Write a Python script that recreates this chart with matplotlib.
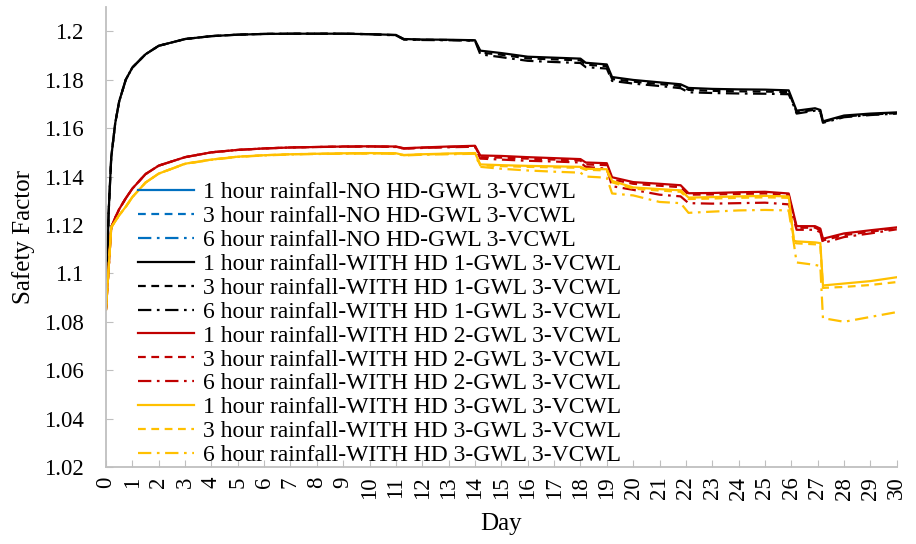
import matplotlib
matplotlib.use("Agg")
import matplotlib.pyplot as plt

plt.rcParams['font.family'] = ['Liberation Serif', 'DejaVu Serif']

# Data
day = [0, 0.1, 0.2, 0.35, 0.5, 0.75, 1, 1.5, 2, 3, 4, 5, 6, 7, 8, 9, 10, 11, 11.3, 12, 13, 14,
       14.2, 15, 16, 17, 18, 18.2, 19, 19.2, 20, 21, 21.8, 22.1, 23, 24, 25, 25.9,
       26.1, 26.2, 26.9, 27.1, 27.2, 28, 29, 30]

# NO HD series lie below the plotted range (not visible in the chart)
no_hd_day = [0, 30]
no_hd_1h = [1.000, 0.995]
no_hd_3h = [1.000, 0.994]
no_hd_6h = [1.000, 0.993]

hd1_1h = [1.086, 1.125, 1.148, 1.162, 1.171, 1.180, 1.185, 1.1905, 1.1940, 1.1968, 1.1980, 1.1986, 1.1989, 1.1990, 1.1990, 1.1990, 1.1988, 1.1985, 1.1968, 1.1966, 1.1965, 1.1963,
          1.1920, 1.1910, 1.1895, 1.1891, 1.1887, 1.1870, 1.1863, 1.1811, 1.1799, 1.1789, 1.1781, 1.1766, 1.1762, 1.1760, 1.1759, 1.1756,
          1.1700, 1.1672, 1.1682, 1.1675, 1.1628, 1.1652, 1.1660, 1.1665]
hd1_3h = [1.086, 1.125, 1.148, 1.162, 1.171, 1.180, 1.185, 1.1905, 1.1940, 1.1968, 1.1980, 1.1986, 1.1989, 1.1990, 1.1990, 1.1990, 1.1988, 1.1984, 1.1967, 1.1965, 1.1964, 1.1962,
          1.1912, 1.1903, 1.1888, 1.1884, 1.1880, 1.1862, 1.1856, 1.1803, 1.1792, 1.1782, 1.1774, 1.1758, 1.1754, 1.1752, 1.1751, 1.1749,
          1.1695, 1.1665, 1.1676, 1.1670, 1.1625, 1.1648, 1.1656, 1.1662]
hd1_6h = [1.086, 1.125, 1.148, 1.162, 1.171, 1.180, 1.185, 1.1905, 1.1940, 1.1968, 1.1980, 1.1986, 1.1989, 1.1990, 1.1990, 1.1990, 1.1988, 1.1983, 1.1966, 1.1964, 1.1963, 1.1961,
          1.1905, 1.1893, 1.1878, 1.1873, 1.1869, 1.1852, 1.1846, 1.1795, 1.1784, 1.1774, 1.1765, 1.1748, 1.1745, 1.1743, 1.1742, 1.1740,
          1.1690, 1.1660, 1.1672, 1.1666, 1.1622, 1.1645, 1.1654, 1.1660]

hd2_1h = [1.085, 1.102, 1.119, 1.123, 1.1265, 1.131, 1.1350, 1.1410, 1.1445, 1.1480, 1.1500, 1.1510, 1.1516, 1.1520, 1.1522, 1.1524, 1.1525, 1.1524, 1.1517, 1.1520, 1.1524, 1.1527,
          1.1487, 1.1485, 1.1480, 1.1476, 1.1472, 1.1458, 1.1455, 1.1397, 1.1377, 1.1370, 1.1364, 1.1331, 1.1332, 1.1335, 1.1337, 1.1330,
          1.1240, 1.1195, 1.1195, 1.1185, 1.1143, 1.1165, 1.1178, 1.1190]
hd2_3h = [1.085, 1.102, 1.119, 1.123, 1.1265, 1.131, 1.1350, 1.1410, 1.1445, 1.1480, 1.1500, 1.1510, 1.1516, 1.1520, 1.1522, 1.1524, 1.1524, 1.1523, 1.1516, 1.1519, 1.1522, 1.1525,
          1.1480, 1.1478, 1.1474, 1.1470, 1.1466, 1.1450, 1.1447, 1.1388, 1.1370, 1.1362, 1.1356, 1.1325, 1.1326, 1.1328, 1.1330, 1.1323,
          1.1232, 1.1188, 1.1189, 1.1178, 1.1136, 1.1158, 1.1172, 1.1186]
hd2_6h = [1.085, 1.102, 1.119, 1.123, 1.1265, 1.131, 1.1350, 1.1410, 1.1445, 1.1480, 1.1500, 1.1510, 1.1516, 1.1520, 1.1522, 1.1523, 1.1524, 1.1522, 1.1515, 1.1518, 1.1521, 1.1523,
          1.1474, 1.1470, 1.1465, 1.1462, 1.1458, 1.1440, 1.1432, 1.1360, 1.1345, 1.1325, 1.1318, 1.1290, 1.1288, 1.1290, 1.1292, 1.1285,
          1.1220, 1.1180, 1.1180, 1.1170, 1.1125, 1.1150, 1.1165, 1.1182]

hd3_1h = [1.085, 1.102, 1.119, 1.1215, 1.124, 1.1275, 1.1315, 1.1375, 1.1412, 1.1453, 1.1470, 1.1482, 1.1488, 1.1492, 1.1494, 1.1496, 1.1497, 1.1496, 1.1489, 1.1492, 1.1495, 1.1497,
          1.1450, 1.1447, 1.1444, 1.1442, 1.1440, 1.1432, 1.1430, 1.1382, 1.1355, 1.1348, 1.1343, 1.1313, 1.1315, 1.1318, 1.1320, 1.1318,
          1.1135, 1.1132, 1.1128, 1.1125, 1.0950, 1.0958, 1.0968, 1.0984]
hd3_3h = [1.085, 1.102, 1.119, 1.1215, 1.124, 1.1275, 1.1315, 1.1375, 1.1412, 1.1453, 1.1470, 1.1482, 1.1488, 1.1492, 1.1494, 1.1495, 1.1496, 1.1495, 1.1488, 1.1491, 1.1494, 1.1496,
          1.1446, 1.1443, 1.1440, 1.1438, 1.1436, 1.1428, 1.1425, 1.1376, 1.1350, 1.1342, 1.1337, 1.1307, 1.1309, 1.1312, 1.1314, 1.1312,
          1.1128, 1.1124, 1.1120, 1.1117, 1.0940, 1.0944, 1.0952, 1.0964]
hd3_6h = [1.085, 1.102, 1.119, 1.1215, 1.124, 1.1275, 1.1315, 1.1375, 1.1412, 1.1452, 1.1469, 1.1481, 1.1487, 1.1491, 1.1493, 1.1494, 1.1495, 1.1494, 1.1487, 1.1490, 1.1492, 1.1494,
          1.1440, 1.1432, 1.1425, 1.1420, 1.1416, 1.1400, 1.1395, 1.1330, 1.1322, 1.1295, 1.1290, 1.1250, 1.1255, 1.1260, 1.1262, 1.1260,
          1.1120, 1.1045, 1.1035, 1.1030, 1.0815, 1.0800, 1.0820, 1.0840]

blue = '#0070C0'
black = '#000000'
red = '#C00000'
orange = '#FFC000'

dash = (0, (3.5, 2.5))
dashdot = (0, (6, 2.5, 1.2, 2.5))

fig = plt.figure(figsize=(9.16, 5.44), dpi=100)
ax = fig.add_axes([0.1157, 0.1415, 0.8633, 0.8455])

series = [
    (no_hd_day, no_hd_1h, blue, '-', '1 hour rainfall-NO HD-GWL 3-VCWL'),
    (no_hd_day, no_hd_3h, blue, dash, '3 hour rainfall-NO HD-GWL 3-VCWL'),
    (no_hd_day, no_hd_6h, blue, dashdot, '6 hour rainfall-NO HD-GWL 3-VCWL'),
    (day, hd1_1h, black, '-', '1 hour rainfall-WITH HD 1-GWL 3-VCWL'),
    (day, hd1_3h, black, dash, '3 hour rainfall-WITH HD 1-GWL 3-VCWL'),
    (day, hd1_6h, black, dashdot, '6 hour rainfall-WITH HD 1-GWL 3-VCWL'),
    (day, hd2_1h, red, '-', '1 hour rainfall-WITH HD 2-GWL 3-VCWL'),
    (day, hd2_3h, red, dash, '3 hour rainfall-WITH HD 2-GWL 3-VCWL'),
    (day, hd2_6h, red, dashdot, '6 hour rainfall-WITH HD 2-GWL 3-VCWL'),
    (day, hd3_1h, orange, '-', '1 hour rainfall-WITH HD 3-GWL 3-VCWL'),
    (day, hd3_3h, orange, dash, '3 hour rainfall-WITH HD 3-GWL 3-VCWL'),
    (day, hd3_6h, orange, dashdot, '6 hour rainfall-WITH HD 3-GWL 3-VCWL'),
]
for x, y, c, ls, lab in series:
    ax.plot(x, y, color=c, linestyle=ls, linewidth=1.6, label=lab)

ax.set_xlim(0, 30)
ax.set_ylim(1.02, 1.21)
ax.set_xticks(range(0, 31))
ax.set_yticks([1.02 + 0.02 * i for i in range(10)])
ax.set_yticklabels(['1.02', '1.04', '1.06', '1.08', '1.1', '1.12', '1.14', '1.16', '1.18', '1.2'])
ax.tick_params(axis='x', direction='in', length=5, color='#BFBFBF', labelsize=16.5, rotation=90, pad=7)
ax.tick_params(axis='y', direction='in', length=5, color='#BFBFBF', labelsize=16.5, pad=16)

for s in ['top', 'right']:
    ax.spines[s].set_visible(False)
for s in ['left', 'bottom']:
    ax.spines[s].set_color('#BFBFBF')
    ax.spines[s].set_linewidth(1.3)

ax.set_xlabel('Day', fontsize=18)
ax.set_ylabel('Safety Factor', fontsize=18)
ax.xaxis.set_label_coords(0.5, -0.1)
ax.yaxis.set_label_coords(-0.09, 0.5)

ax.legend(loc='upper left', bbox_to_anchor=(0.04, 0.62), frameon=False, fontsize=17,
          labelspacing=0.1, handlelength=2.4, handletextpad=0.35, borderaxespad=0, borderpad=0)

fig.savefig('out.png', dpi=100)
